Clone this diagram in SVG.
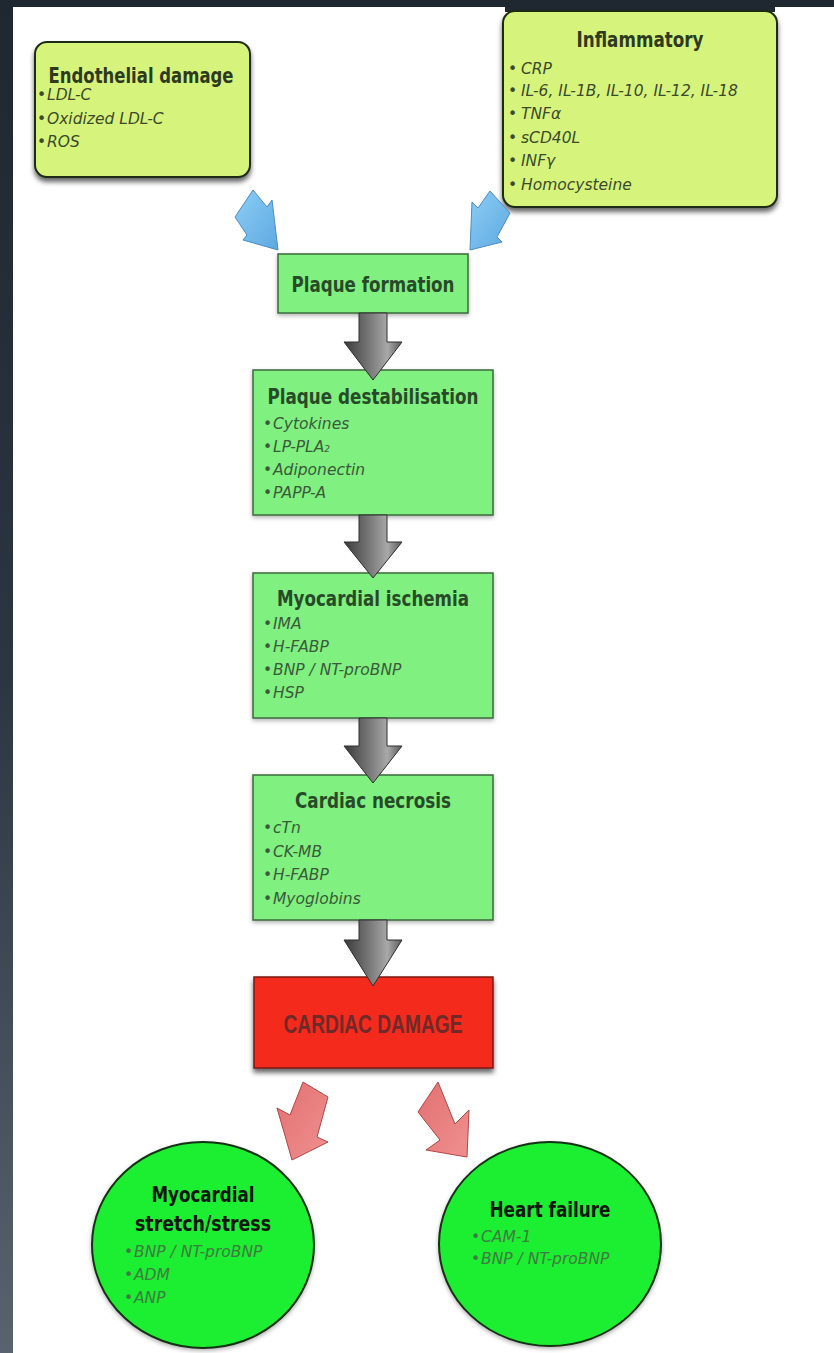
<svg xmlns="http://www.w3.org/2000/svg" width="834" height="1353" viewBox="0 0 834 1353">
<style>
.ttl{font-family:"DejaVu Sans",sans-serif;font-weight:bold;font-size:21px;text-anchor:middle;}
.ty{fill:#2e3a1e;}
.tg{fill:#284a28;}
.tc{fill:#0e160e;}
.bl{font-family:"DejaVu Sans",sans-serif;font-style:italic;font-size:15.5px;}
.by{fill:#3c4a2c;}
.bg{fill:#3a5a3a;}
.bc{fill:#3f7a3f;}
.ybox{fill:#d6f47c;stroke:#1e2a12;stroke-width:2;}
.gbox{fill:#80f080;stroke:#3b6a3b;stroke-width:1.5;}
.circ{fill:#1eee30;stroke:#143014;stroke-width:2;}
.garr{fill:url(#gGrey);stroke:#2e2e2e;stroke-width:1;}
.barr{fill:url(#gBlue);stroke:#4a8cc4;stroke-width:1;}
.rarr{fill:url(#gRed);stroke:#b04646;stroke-width:1;}
</style>
<defs>
<linearGradient id="gLeft" x1="0" y1="0" x2="0" y2="1">
<stop offset="0" stop-color="#1f2730"/>
<stop offset="0.5" stop-color="#2c3640"/>
<stop offset="1" stop-color="#58636d"/>
</linearGradient>
<linearGradient id="gGrey" x1="0" y1="0" x2="1" y2="0">
<stop offset="0" stop-color="#3a3a3a"/>
<stop offset="0.45" stop-color="#7a7a7a"/>
<stop offset="0.75" stop-color="#a8a8a8"/>
<stop offset="1" stop-color="#5a5a5a"/>
</linearGradient>
<linearGradient id="gBlue" x1="0" y1="0" x2="1" y2="1">
<stop offset="0" stop-color="#8ccdf4"/>
<stop offset="1" stop-color="#5ea9e2"/>
</linearGradient>
<linearGradient id="gRed" x1="0" y1="0" x2="1" y2="1">
<stop offset="0" stop-color="#e27070"/>
<stop offset="1" stop-color="#f09090"/>
</linearGradient>
<filter id="sh" x="-10%" y="-10%" width="120%" height="130%">
<feDropShadow dx="0" dy="4" stdDeviation="2.5" flood-color="#000" flood-opacity="0.6"/>
</filter>
<filter id="shs" x="-10%" y="-10%" width="120%" height="130%">
<feDropShadow dx="0" dy="2" stdDeviation="2" flood-color="#000" flood-opacity="0.3"/>
</filter>
</defs>

<rect x="0" y="0" width="834" height="1353" fill="#1f2730"/>
<rect x="0" y="0" width="13" height="1353" fill="url(#gLeft)"/>
<rect x="13" y="7" width="821" height="1346" fill="#ffffff"/>
<rect x="505" y="6" width="270" height="6" fill="#1f2730"/>

<g id="endothelial">
<rect class="ybox" x="35" y="42" width="215" height="135" rx="12" filter="url(#sh)"/>
<text class="ttl ty" x="141" y="83" textLength="185" lengthAdjust="spacingAndGlyphs">Endothelial damage</text>
<text class="bl by" y="100"><tspan x="37" font-style="normal">•</tspan><tspan x="47">LDL-C</tspan></text>
<text class="bl by" y="124"><tspan x="37" font-style="normal">•</tspan><tspan x="47">Oxidized LDL-C</tspan></text>
<text class="bl by" y="147"><tspan x="37" font-style="normal">•</tspan><tspan x="47">ROS</tspan></text>
</g>

<g id="inflammatory">
<rect class="ybox" x="503" y="11" width="274" height="196" rx="12" filter="url(#sh)"/>
<text class="ttl ty" x="640" y="47" textLength="127" lengthAdjust="spacingAndGlyphs">Inflammatory</text>
<text class="bl by" y="74"><tspan x="508" font-style="normal">•</tspan><tspan x="521">CRP</tspan></text>
<text class="bl by" y="96"><tspan x="508" font-style="normal">•</tspan><tspan x="521">IL-6, IL-1B, IL-10, IL-12, IL-18</tspan></text>
<text class="bl by" y="119"><tspan x="508" font-style="normal">•</tspan><tspan x="521">TNFα</tspan></text>
<text class="bl by" y="143"><tspan x="508" font-style="normal">•</tspan><tspan x="521">sCD40L</tspan></text>
<text class="bl by" y="166"><tspan x="508" font-style="normal">•</tspan><tspan x="521">INFγ</tspan></text>
<text class="bl by" y="190"><tspan x="508" font-style="normal">•</tspan><tspan x="521">Homocysteine</tspan></text>
</g>

<g id="plaque-formation">
<rect class="gbox" x="278" y="254" width="190" height="59" filter="url(#shs)"/>
<text class="ttl tg" x="373" y="292" textLength="163" lengthAdjust="spacingAndGlyphs">Plaque formation</text>
</g>

<g id="plaque-destabilisation">
<rect class="gbox" x="253" y="370" width="240" height="145" filter="url(#shs)"/>
<text class="ttl tg" x="373" y="404" textLength="211" lengthAdjust="spacingAndGlyphs">Plaque destabilisation</text>
<text class="bl bg" y="429"><tspan x="263" font-style="normal">•</tspan><tspan x="273">Cytokines</tspan></text>
<text class="bl bg" y="452"><tspan x="263" font-style="normal">•</tspan><tspan x="273">LP-PLA</tspan><tspan font-size="9">2</tspan></text>
<text class="bl bg" y="475"><tspan x="263" font-style="normal">•</tspan><tspan x="273">Adiponectin</tspan></text>
<text class="bl bg" y="498"><tspan x="263" font-style="normal">•</tspan><tspan x="273">PAPP-A</tspan></text>
</g>

<g id="myocardial-ischemia">
<rect class="gbox" x="253" y="573" width="240" height="145" filter="url(#shs)"/>
<text class="ttl tg" x="373" y="606" textLength="192" lengthAdjust="spacingAndGlyphs">Myocardial ischemia</text>
<text class="bl bg" y="629"><tspan x="263" font-style="normal">•</tspan><tspan x="273">IMA</tspan></text>
<text class="bl bg" y="652"><tspan x="263" font-style="normal">•</tspan><tspan x="273">H-FABP</tspan></text>
<text class="bl bg" y="675"><tspan x="263" font-style="normal">•</tspan><tspan x="273">BNP / NT-proBNP</tspan></text>
<text class="bl bg" y="698"><tspan x="263" font-style="normal">•</tspan><tspan x="273">HSP</tspan></text>
</g>

<g id="cardiac-necrosis">
<rect class="gbox" x="253" y="775" width="240" height="145" filter="url(#shs)"/>
<text class="ttl tg" x="373" y="808" textLength="156" lengthAdjust="spacingAndGlyphs">Cardiac necrosis</text>
<text class="bl bg" y="833"><tspan x="263" font-style="normal">•</tspan><tspan x="273">cTn</tspan></text>
<text class="bl bg" y="857"><tspan x="263" font-style="normal">•</tspan><tspan x="273">CK-MB</tspan></text>
<text class="bl bg" y="880"><tspan x="263" font-style="normal">•</tspan><tspan x="273">H-FABP</tspan></text>
<text class="bl bg" y="904"><tspan x="263" font-style="normal">•</tspan><tspan x="273">Myoglobins</tspan></text>
</g>

<g id="cardiac-damage">
<rect x="254" y="977" width="239" height="91" fill="#f4291c" stroke="#7a1a12" stroke-width="1.5" filter="url(#sh)"/>
<text x="373" y="1033" font-family="'Liberation Sans',Arial,sans-serif" font-weight="bold" font-size="25" fill="#6e2a28" text-anchor="middle" textLength="179" lengthAdjust="spacingAndGlyphs">CARDIAC DAMAGE</text>
</g>

<g id="myocardial-stretch">
<ellipse class="circ" cx="203" cy="1245" rx="111" ry="103" filter="url(#shs)"/>
<text class="ttl tc" x="203" y="1202" textLength="103" lengthAdjust="spacingAndGlyphs">Myocardial</text>
<text class="ttl tc" x="203" y="1231" textLength="136" lengthAdjust="spacingAndGlyphs">stretch/stress</text>
<text class="bl bc" y="1257"><tspan x="124" font-style="normal">•</tspan><tspan x="134">BNP / NT-proBNP</tspan></text>
<text class="bl bc" y="1280"><tspan x="124" font-style="normal">•</tspan><tspan x="134">ADM</tspan></text>
<text class="bl bc" y="1303"><tspan x="124" font-style="normal">•</tspan><tspan x="134">ANP</tspan></text>
</g>

<g id="heart-failure">
<ellipse class="circ" cx="550" cy="1244" rx="111" ry="102" filter="url(#shs)"/>
<text class="ttl tc" x="550" y="1217" textLength="121" lengthAdjust="spacingAndGlyphs">Heart failure</text>
<text class="bl bc" y="1242"><tspan x="471" font-style="normal">•</tspan><tspan x="481">CAM-1</tspan></text>
<text class="bl bc" y="1264"><tspan x="471" font-style="normal">•</tspan><tspan x="481">BNP / NT-proBNP</tspan></text>
</g>

<g id="connectors">
<polygon class="barr" points="253,190 267,207 272,200 278,250 243,240 247,235 235,217"/>
<polygon class="barr" points="490,191 510,213 497,237 502,242 470,250 472,202 478,208"/>
<path class="garr" d="M359,313 H387 V342 H402 L373,380 L344,342 H359 Z"/>
<path class="garr" d="M359,515 H387 V542 H402 L373,578 L344,542 H359 Z"/>
<path class="garr" d="M359,718 H387 V746 H402 L373,783 L344,746 H359 Z"/>
<path class="garr" d="M359,920 H387 V940 H402 L373,986 L344,940 H359 Z"/>
<polygon class="rarr" points="303,1082 328,1097 317,1137 328,1142 292,1160 277,1108 290,1115"/>
<polygon class="rarr" points="438,1082 455,1124 469,1110 467,1157 426,1150 440,1140 418,1112"/>
</g>
</svg>
